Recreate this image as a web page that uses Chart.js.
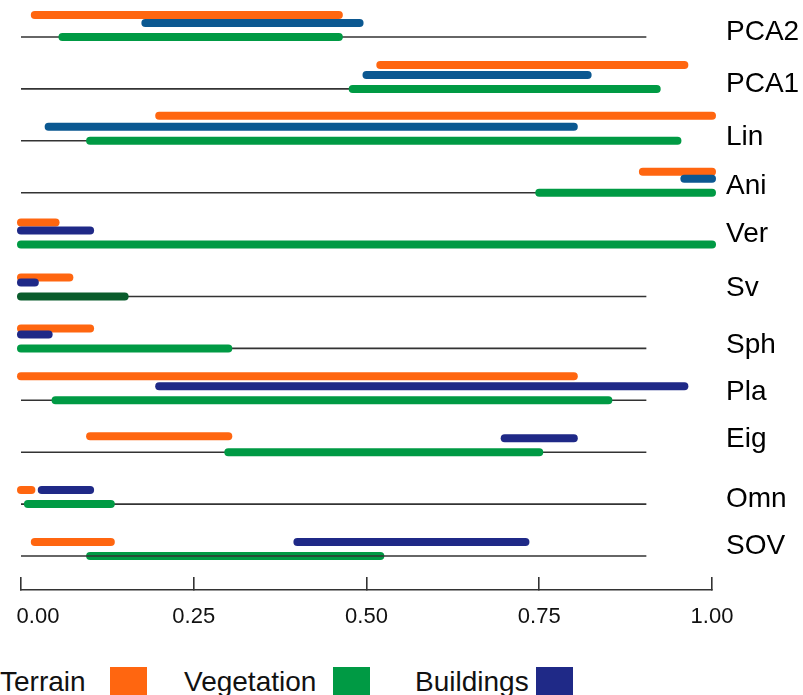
<!DOCTYPE html>
<html>
<head>
<meta charset="utf-8">
<title>Feature ranges by class</title>
<script src="https://cdn.jsdelivr.net/npm/chart.js@4.4.1/dist/chart.umd.min.js"></script>
<style>
  html, body { margin: 0; padding: 0; background: #fff; overflow: hidden; }
  #wrap { position: relative; width: 803px; height: 695px; overflow: hidden; background: #fff; }
  #plot { position: absolute; left: 0; top: 0; width: 803px; height: 650px; }
  .key { position: absolute; top: 668px; font: 28px "Liberation Sans", Arial, sans-serif; line-height: 28px; color: #111; white-space: nowrap; }
  .swatch { position: absolute; top: 667px; width: 37px; height: 32px; }
</style>
</head>
<body>
<div id="wrap">
  <canvas id="plot" width="803" height="650"></canvas>
  <span class="key" style="left:0px">Terrain</span>
  <span class="swatch" style="left:110px;background:#ff6610"></span>
  <span class="key" style="left:184px">Vegetation</span>
  <span class="swatch" style="left:333px;background:#009a44"></span>
  <span class="key" style="left:415px">Buildings</span>
  <span class="swatch" style="left:536px;background:#1f2987"></span>
</div>
<script>
// Features, top to bottom
const rows = ['PCA2', 'PCA1', 'Lin', 'Ani', 'Ver', 'Sv', 'Sph', 'Pla', 'Eig', 'Omn', 'SOV'];

// Value range covered by each class, per feature
const terrainFrom    = [0.02, 0.52, 0.20, 0.90, 0.00, 0.00, 0.00, 0.00, 0.10, 0.00, 0.02];
const terrainTo      = [0.46, 0.96, 1.00, 1.00, 0.05, 0.07, 0.10, 0.80, 0.30, 0.015, 0.13];
const vegetationFrom = [0.06, 0.48, 0.10, 0.75, 0.00, 0.00, 0.00, 0.05, 0.30, 0.01, 0.10];
const vegetationTo   = [0.46, 0.92, 0.95, 1.00, 1.00, 0.15, 0.30, 0.85, 0.75, 0.13, 0.52];
const buildingsFrom  = [0.18, 0.50, 0.04, 0.96, 0.00, 0.00, 0.00, 0.20, 0.70, 0.03, 0.40];
const buildingsTo    = [0.49, 0.82, 0.80, 1.00, 0.10, 0.02, 0.04, 0.96, 0.80, 0.10, 0.73];

// Reference line under each feature
const baselineSpan = [0, 0.905];

// Axis ticks
const xTicks = [0, 0.25, 0.5, 0.75, 1];

// ---- styling ----
const FONT = '"Liberation Sans", Arial, sans-serif';
const ORANGE = '#ff6610';
const GREEN = '#009a44';
const GREEN_DARK = '#0a5c2c';
const STEEL = '#0b5891';
const NAVY = '#1f2987';
const RULE = '#333333';

const rowPx = 51.9;              // canvas pixels between two feature rows
const terrainLiftPx  = [22, 24, 25, 21, 22, 19, 20, 24, 16, 14, 14];
const buildingsLiftPx = 14;
const labelLiftPx    = [4.5, 4.5, 3.5, 6, 10, 8, 3, 8, 13, 5, 10];
const firstTickNudgePx = 17;     // keeps the "0.00" label inside the canvas
const buildingsTone  = rows.map((r, i) => i < 4 ? STEEL : NAVY);
const vegetationTone = rows.map(r => r === 'Sv' ? GREEN_DARK : GREEN);
const baselineOnTop  = rows.map(r => r === 'SOV');

function segment(label, x0, x1, y, color, width, order, cap) {
  return {
    label: label,
    data: [{ x: x0, y: y }, { x: x1, y: y }],
    showLine: true,
    borderColor: color,
    backgroundColor: color,
    borderWidth: width,
    borderCapStyle: cap,
    pointRadius: 0,
    pointHoverRadius: 0,
    clip: false,
    order: order
  };
}

const datasets = [];
rows.forEach((name, i) => {
  datasets.push(segment(name + ' baseline', baselineSpan[0], baselineSpan[1], i,
    RULE, 1.6, baselineOnTop[i] ? 25 : 40, 'butt'));
  datasets.push(segment('Vegetation', vegetationFrom[i], vegetationTo[i], i,
    vegetationTone[i], 8, 30, 'round'));
  datasets.push(segment('Terrain', terrainFrom[i], terrainTo[i], i - terrainLiftPx[i] / rowPx,
    ORANGE, 8, 20, 'round'));
  datasets.push(segment('Buildings', buildingsFrom[i], buildingsTo[i], i - buildingsLiftPx / rowPx,
    buildingsTone[i], 8, 10, 'round'));
});

// Shift the leftmost x tick label to the right so it is not cut off
const firstLabelInside = {
  id: 'firstLabelInside',
  beforeDraw(chart) {
    const items = chart.scales.x.getLabelItems(chart.chartArea);
    if (items.length) items[0].options.translation[0] += firstTickNudgePx;
  }
};

new Chart(document.getElementById('plot'), {
  type: 'scatter',
  data: { datasets: datasets },
  plugins: [firstLabelInside],
  options: {
    responsive: false,
    animation: false,
    devicePixelRatio: 1,
    events: [],
    layout: { padding: { left: 21, right: 0, top: 0, bottom: 0 } },
    plugins: { legend: { display: false }, tooltip: { enabled: false } },
    scales: {
      x: {
        type: 'linear',
        position: 'bottom',
        min: 0,
        max: 1,
        afterBuildTicks(scale) { scale.ticks = xTicks.map(v => ({ value: v })); },
        ticks: {
          callback: v => Number(v).toFixed(2),
          font: { family: FONT, size: 22 },
          color: '#111',
          padding: 27,
          maxRotation: 0,
          autoSkip: false
        },
        grid: { display: true, drawOnChartArea: false, drawTicks: true, tickLength: -13, color: RULE, lineWidth: 1.6 },
        border: { display: true, color: RULE, width: 1.6 },
        afterFit(scale) {
          scale.height = 60;
          scale.paddingLeft = 0;
          scale.paddingRight = 0;
        }
      },
      y: {
        type: 'linear',
        position: 'right',
        reverse: true,
        min: -0.713,
        max: 10.655,
        afterBuildTicks(scale) { scale.ticks = rows.map((r, i) => ({ value: i - labelLiftPx[i] / rowPx })); },
        ticks: {
          callback: (v, i) => rows[i],
          font: { family: FONT, size: 28 },
          color: '#000',
          padding: 14,
          autoSkip: false
        },
        grid: { display: false, drawTicks: false },
        border: { display: false },
        afterFit(scale) {
          scale.width = 91;
          scale.paddingTop = 0;
          scale.paddingBottom = 0;
        }
      }
    }
  }
});
</script>
</body>
</html>
